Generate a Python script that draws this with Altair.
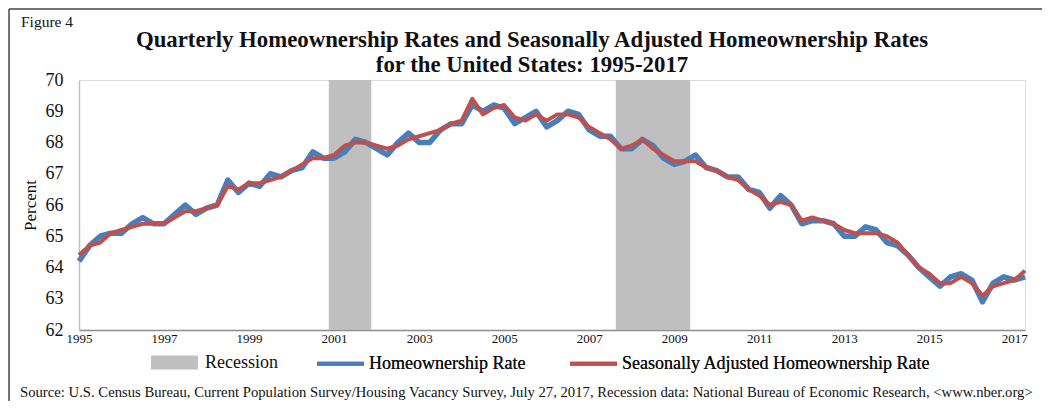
import altair as alt
import pandas as pd

# ---- data ----
quarters = [f"{y}Q{q}" for y in range(1995, 2018) for q in range(1, 5)][:90]

ho_rate = [
    64.2, 64.7, 65.0, 65.1,
    65.1, 65.4, 65.6, 65.4,
    65.4, 65.7, 66.0, 65.7,
    65.9, 66.0, 66.8, 66.4,
    66.7, 66.6, 67.0, 66.9,
    67.1, 67.2, 67.7, 67.5,
    67.5, 67.7, 68.1, 68.0,
    67.8, 67.6, 68.0, 68.3,
    68.0, 68.0, 68.4, 68.6,
    68.6, 69.2, 69.0, 69.2,
    69.1, 68.6, 68.8, 69.0,
    68.5, 68.7, 69.0, 68.9,
    68.4, 68.2, 68.2, 67.8,
    67.8, 68.1, 67.9, 67.5,
    67.3, 67.4, 67.6, 67.2,
    67.1, 66.9, 66.9, 66.5,
    66.4, 65.9, 66.3, 66.0,
    65.4, 65.5, 65.5, 65.4,
    65.0, 65.0, 65.3, 65.2,
    64.8, 64.7, 64.4, 64.0,
    63.7, 63.4, 63.7, 63.8,
    63.6, 62.9, 63.5, 63.7,
    63.6, 63.7,
]

sa_rate = [
    64.4, 64.7, 64.8, 65.1,
    65.2, 65.3, 65.4, 65.4,
    65.4, 65.6, 65.8, 65.8,
    65.9, 66.0, 66.6, 66.5,
    66.7, 66.7, 66.8, 66.9,
    67.1, 67.3, 67.5, 67.5,
    67.6, 67.9, 68.0, 68.0,
    67.9, 67.8, 67.9, 68.1,
    68.2, 68.3, 68.4, 68.6,
    68.7, 69.4, 68.9, 69.1,
    69.2, 68.8, 68.7, 68.9,
    68.7, 68.9, 68.9, 68.8,
    68.5, 68.3, 68.1, 67.8,
    67.9, 68.1, 67.8, 67.6,
    67.4, 67.4, 67.4, 67.2,
    67.1, 66.9, 66.8, 66.5,
    66.3, 66.0, 66.1, 66.0,
    65.5, 65.6, 65.5, 65.4,
    65.2, 65.1, 65.1, 65.1,
    65.0, 64.8, 64.4, 64.0,
    63.8, 63.5, 63.5, 63.7,
    63.5, 63.1, 63.4, 63.5,
    63.6, 63.9,
]

recession_start = ["2001Q1", "2007Q4"]
recession_end = ["2001Q4", "2009Q2"]

tick_years = list(range(1995, 2018, 2))

series_names = ["Recession", "Homeownership Rate",
                "Seasonally Adjusted Homeownership Rate"]
series_colors = ["#bfbfbf", "#4a7ebb", "#c0504d"]

title_lines = ["Quarterly Homeownership Rates and Seasonally Adjusted Homeownership Rates",
               "for the United States: 1995-2017"]
figure_label = "Figure 4"
source_text = ("Source: U.S. Census Bureau, Current Population Survey/Housing Vacancy Survey, "
               "July 27, 2017, Recession data: National Bureau of Economic Research, <www.nber.org>")

# ---- tables ----
lines_df = pd.DataFrame({
    "idx": list(range(len(quarters))) * 2,
    "quarter": quarters * 2,
    "value": ho_rate + sa_rate,
    "series": [series_names[1]] * len(quarters) + [series_names[2]] * len(quarters),
})
rec_df = pd.DataFrame({
    "start": [quarters.index(s) - 0.5 for s in recession_start],
    "end": [quarters.index(e) + 0.5 for e in recession_end],
    "series": [series_names[0]] * len(recession_start),
})
tick_vals = [(y - 1995) * 4 for y in tick_years]

FONT = "Liberation Serif"
W, H = 946, 250
INK = "#111111"

leg_common = dict(title=None, orient="none", direction="horizontal",
                  labelFont=FONT, labelFontSize=18, labelColor=INK,
                  labelLimit=0, columnPadding=36, symbolSize=2200, symbolType="stroke",
                  symbolOpacity=1)
legend_rec = alt.Legend(legendX=65, legendY=252, symbolStrokeWidth=14, labelOffset=0,
                        symbolStrokeColor=series_colors[0], **leg_common)
legend_lines = alt.Legend(legendX=236, legendY=258, symbolStrokeWidth=4, labelOffset=3,
                          **leg_common)

fill_scale = alt.Scale(domain=series_names[:1], range=series_colors[:1])
stroke_scale = alt.Scale(domain=series_names[1:], range=series_colors[1:])

x_scale = alt.Scale(domain=[0, len(quarters) - 1], nice=False, zero=False)
x_axis = alt.Axis(values=tick_vals, labelExpr="toString(1995 + datum.value / 4)",
                  title=None, grid=False, ticks=False, labelFont=FONT,
                  labelFontSize=13, labelColor=INK, labelPadding=2,
                  domainColor="#8c8c8c", domainWidth=1.5, labelFlush=False)
y_scale = alt.Scale(domain=[62, 70], nice=False, zero=False)
y_axis = alt.Axis(values=list(range(62, 71)), title="Percent", titleFont=FONT,
                  titleFontSize=17, titleFontWeight="normal", titleColor=INK,
                  titlePadding=6, labelFont=FONT, labelFontSize=18, labelColor=INK,
                  labelPadding=16, ticks=False, domainColor="#bfbfbf", domainWidth=1.5,
                  gridColor="#d9d9d9", gridWidth=1.5)

rects = alt.Chart(rec_df).mark_rect(opacity=1).encode(
    x=alt.X("start:Q", scale=x_scale, axis=x_axis),
    x2="end:Q",
    y=alt.Y(datum=70, scale=y_scale, axis=y_axis),
    y2=alt.Y2(datum=62),
    fill=alt.Fill("series:N", scale=fill_scale, legend=legend_rec),
)

blue = alt.Chart(lines_df).transform_filter(
    alt.datum.series == series_names[1]
).mark_line(strokeWidth=5.5, strokeJoin="round").encode(
    x=alt.X("idx:Q", scale=x_scale, axis=x_axis),
    y=alt.Y("value:Q", scale=y_scale, axis=y_axis),
    stroke=alt.Stroke("series:N", scale=stroke_scale, legend=legend_lines),
)
red = alt.Chart(lines_df).transform_filter(
    alt.datum.series == series_names[2]
).mark_line(strokeWidth=4, strokeJoin="round").encode(
    x=alt.X("idx:Q", scale=x_scale, axis=x_axis),
    y=alt.Y("value:Q", scale=y_scale, axis=y_axis),
    stroke=alt.Stroke("series:N", scale=stroke_scale, legend=legend_lines),
)

title1 = alt.Chart(pd.DataFrame({"t": [title_lines[0]]})).mark_text(
    font=FONT, fontSize=22.8, fontWeight="bold", align="center", baseline="middle",
    color=INK).encode(text="t:N", x=alt.value(453), y=alt.value(-40))
title2 = alt.Chart(pd.DataFrame({"t": [title_lines[1]]})).mark_text(
    font=FONT, fontSize=22.8, fontWeight="bold", align="center", baseline="middle",
    color=INK).encode(text="t:N", x=alt.value(453), y=alt.value(-15))

fig_df = pd.DataFrame({"t": [figure_label]})
fig_text = alt.Chart(fig_df).mark_text(font=FONT, fontSize=15.5, align="left",
                                       baseline="middle", color=INK).encode(
    text="t:N", x=alt.value(-58), y=alt.value(-58))

src_df = pd.DataFrame({"t": [source_text]})
src_text = alt.Chart(src_df).mark_text(font=FONT, fontSize=14.7, align="left",
                                       baseline="middle", color=INK).encode(
    text="t:N", x=alt.value(-59), y=alt.value(313))

frame_left = alt.Chart(fig_df).mark_rule(color="#444444", strokeWidth=1.5).encode(
    x=alt.value(-70), y=alt.value(-71), y2=alt.value(330))
frame_top = alt.Chart(fig_df).mark_rule(color="#444444", strokeWidth=1.5).encode(
    x=alt.value(-70), x2=alt.value(1000), y=alt.value(-71))

chart = alt.layer(rects, blue, red, title1, title2, fig_text, src_text,
                  frame_left, frame_top).properties(
    width=W, height=H,
    autosize=alt.AutoSizeParams(type="none"),
    padding={"left": 71, "top": 72, "right": 17, "bottom": 71},
).resolve_scale(fill="independent", stroke="independent").configure_view(
    stroke=None).configure(background="white")

chart.save("out.html", embed_options={"renderer": "svg", "actions": False})
